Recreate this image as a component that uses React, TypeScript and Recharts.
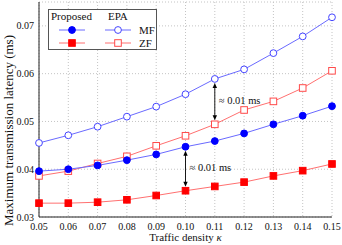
import React from 'react';
import { LineChart, Line, XAxis, YAxis, CartesianGrid, ReferenceLine, Legend } from 'recharts';

// traffic density on the x axis
const DENSITY = [0.05, 0.06, 0.07, 0.08, 0.09, 0.1, 0.11, 0.12, 0.13, 0.14, 0.15];

// max transmission latency (ms)
const PROPOSED_MF = [0.0396, 0.04, 0.0408, 0.0419, 0.0431, 0.0447, 0.0459, 0.0475, 0.0494, 0.0512, 0.0532];
const PROPOSED_ZF = [0.0329, 0.0329, 0.0331, 0.0336, 0.0345, 0.0355, 0.0364, 0.0373, 0.0386, 0.0397, 0.0411];
const EPA_MF = [0.0455, 0.0471, 0.0489, 0.051, 0.0531, 0.0557, 0.0589, 0.0609, 0.0643, 0.0678, 0.0718];
const EPA_ZF = [0.0386, 0.0396, 0.0412, 0.0427, 0.0449, 0.047, 0.0494, 0.0524, 0.0542, 0.057, 0.0606];

const X_TICKS = [0.05, 0.06, 0.07, 0.08, 0.09, 0.1, 0.11, 0.12, 0.13, 0.14, 0.15];
const X_MINOR = [0.055, 0.065, 0.075, 0.085, 0.095, 0.105, 0.115, 0.125, 0.135, 0.145];
const Y_TICKS = [0.03, 0.04, 0.05, 0.06, 0.07];
const Y_MINOR = [0.035, 0.045, 0.055, 0.065, 0.075];

const METHODS = ['Proposed', 'EPA'];
const SCHEMES = ['MF', 'ZF'];
const GAP_LABEL = '≈ 0.01 ms';

const FONT = '"Liberation Serif", "Times New Roman", serif';

const data = DENSITY.map((x, i) => ({
  x,
  proposedMF: PROPOSED_MF[i],
  proposedZF: PROPOSED_ZF[i],
  epaMF: EPA_MF[i],
  epaZF: EPA_ZF[i],
}));

const SERIES = [
  { key: 'epaMF', method: 'EPA', scheme: 'MF', color: '#4545ff', line: '#6a6aff', kind: 'circle', filled: false },
  { key: 'epaZF', method: 'EPA', scheme: 'ZF', color: '#ff4a4a', line: '#ff7070', kind: 'square', filled: false },
  { key: 'proposedMF', method: 'Proposed', scheme: 'MF', color: '#0000ff', line: '#6a6aff', kind: 'circle', filled: true },
  { key: 'proposedZF', method: 'Proposed', scheme: 'ZF', color: '#ff0000', line: '#ff7070', kind: 'square', filled: true },
];

// the two "≈ 0.01 ms" gaps marked on the figure
const GAPS = [
  { x: 0.11, upper: 'epaMF', lower: 'epaZF' },
  { x: 0.1, upper: 'proposedMF', lower: 'proposedZF' },
];

const valueAt = (key: string, x: number) => {
  const row: any = data.find(d => Math.abs(d.x - x) < 1e-9);
  return row ? row[key] : 0;
};

function Marker({ cx, cy, kind, filled, color }: any) {
  const fill = filled ? color : '#fff';
  if (kind === 'square') {
    return <rect x={cx - 3.3} y={cy - 3.3} width={6.6} height={6.6} fill={fill} stroke={color} strokeWidth={1} />;
  }
  return <circle cx={cx} cy={cy} r={3.4} fill={fill} stroke={color} strokeWidth={1} />;
}

const dotFor = (s: any) => (props: any) => {
  const { cx, cy, index } = props;
  if (cx == null || cy == null) return <g key={index} />;
  return <Marker key={index} cx={cx} cy={cy} kind={s.kind} filled={s.filled} color={s.color} />;
};

function GapArrow(props: any) {
  const { x1, y1, y2 } = props;
  const top = Math.min(y1, y2) + 4;
  const bottom = Math.max(y1, y2) - 4;
  const h = 5;
  const w = 2.2;
  return (
    <g>
      <line x1={x1} y1={top + h - 1} x2={x1} y2={bottom - h + 1} stroke="#000" strokeWidth={0.9} />
      <polygon points={`${x1},${top} ${x1 - w},${top + h} ${x1 + w},${top + h}`} fill="#000" />
      <polygon points={`${x1},${bottom} ${x1 - w},${bottom - h} ${x1 + w},${bottom - h}`} fill="#000" />
      <text x={x1 + 4} y={(top + bottom) / 2 - 1} dominantBaseline="central" fontSize={10.5} fontFamily={FONT} fill="#111">
        {GAP_LABEL}
      </text>
    </g>
  );
}

function XTitle({ viewBox }: any) {
  const { x, y, width } = viewBox;
  return (
    <text x={x + width / 2} y={y + 24} textAnchor="middle" fontSize={11} fontFamily={FONT} fill="#111">
      Traffic density <tspan fontStyle="italic">κ</tspan>
    </text>
  );
}

function YTitle({ viewBox }: any) {
  const { x, y, height } = viewBox;
  return (
    <text
      transform={`translate(${x + 8},${y + height / 2 + 21}) rotate(-90)`}
      textAnchor="middle"
      dominantBaseline="central"
      fontSize={13}
      fontFamily={FONT}
      fill="#111"
    >
      Maximum transmission latency (ms)
    </text>
  );
}

function LegendBox({ payload }: any) {
  const keys = new Set((payload || []).map((p: any) => p.dataKey));
  const colX = [24, 70];
  const headX = [3, 60];
  const rowY = [21, 34];
  return (
    <svg width={109} height={41} style={{ display: 'block' }}>
      <rect x={0.5} y={0.5} width={108} height={40} fill="#fff" stroke="#555" strokeWidth={1} />
      {METHODS.map((m, mi) => (
        <text key={m} x={headX[mi]} y={11} fontSize={11} fontFamily={FONT} fill="#111">{m}</text>
      ))}
      {SCHEMES.map((sc, si) => (
        <text key={sc} x={91} y={rowY[si] + 4} fontSize={11} fontFamily={FONT} fill="#111">{sc}</text>
      ))}
      {SERIES.filter(s => keys.has(s.key)).map(s => {
        const cx = colX[METHODS.indexOf(s.method)];
        const cy = rowY[SCHEMES.indexOf(s.scheme)];
        return (
          <g key={s.key}>
            <line x1={cx - 13} y1={cy} x2={cx + 13} y2={cy} stroke={s.line} strokeWidth={1} />
            <Marker cx={cx} cy={cy} kind={s.kind} filled={s.filled} color={s.color} />
          </g>
        );
      })}
    </svg>
  );
}

const tickStyle = { fill: '#111', fontSize: 10, fontFamily: FONT };
const frame = { stroke: '#222', strokeWidth: 1 };

export default function App() {
  return (
    <div style={{ position: 'fixed', left: 0, top: 0, width: 342, height: 245, background: '#fff', fontFamily: FONT }}>
      <LineChart width={342} height={245} data={data} margin={{ top: 2, right: 10, bottom: 0, left: 0 }}>
        <CartesianGrid strokeDasharray="1 2" stroke="#c4c4c4" />

        <XAxis
          dataKey="x"
          type="number"
          domain={[0.05, 0.15]}
          ticks={X_TICKS}
          interval={0}
          tickFormatter={(v: number) => v.toFixed(2)}
          tick={tickStyle}
          tickLine={false}
          tickSize={4}
          tickMargin={2}
          axisLine={frame}
          height={28}
          label={{ content: (p: any) => <XTitle {...p} /> }}
        />
        <XAxis xAxisId="bMaj" type="number" domain={[0.05, 0.15]} ticks={X_TICKS} interval={0} mirror height={0} tick={false} tickSize={5} tickLine={frame} axisLine={false} />
        <XAxis xAxisId="bMin" type="number" domain={[0.05, 0.15]} ticks={X_MINOR} interval={0} mirror height={0} tick={false} tickSize={3} tickLine={frame} axisLine={false} />
        <XAxis xAxisId="tMaj" orientation="top" type="number" domain={[0.05, 0.15]} ticks={X_TICKS} interval={0} mirror height={0} tick={false} tickSize={5} tickLine={frame} axisLine={frame} />
        <XAxis xAxisId="tMin" orientation="top" type="number" domain={[0.05, 0.15]} ticks={X_MINOR} interval={0} mirror height={0} tick={false} tickSize={3} tickLine={frame} axisLine={false} />

        <YAxis
          type="number"
          domain={[0.03, 0.075]}
          ticks={Y_TICKS}
          interval={0}
          tickFormatter={(v: number) => v.toFixed(2)}
          tick={tickStyle}
          tickLine={false}
          tickSize={3}
          tickMargin={2}
          axisLine={frame}
          width={39}
          label={{ content: (p: any) => <YTitle {...p} /> }}
        />
        <YAxis yAxisId="lMaj" type="number" domain={[0.03, 0.075]} ticks={Y_TICKS} interval={0} mirror width={0} tick={false} tickSize={5} tickLine={frame} axisLine={false} />
        <YAxis yAxisId="lMin" type="number" domain={[0.03, 0.075]} ticks={Y_MINOR} interval={0} mirror width={0} tick={false} tickSize={3} tickLine={frame} axisLine={false} />
        <YAxis yAxisId="rMaj" orientation="right" type="number" domain={[0.03, 0.075]} ticks={Y_TICKS} interval={0} mirror width={0} tick={false} tickSize={5} tickLine={frame} axisLine={frame} />
        <YAxis yAxisId="rMin" orientation="right" type="number" domain={[0.03, 0.075]} ticks={Y_MINOR} interval={0} mirror width={0} tick={false} tickSize={3} tickLine={frame} axisLine={false} />

        {SERIES.map(s => (
          <Line
            key={s.key}
            dataKey={s.key}
            name={`${s.method} ${s.scheme}`}
            type="linear"
            stroke={s.line}
            strokeWidth={1}
            dot={dotFor(s)}
            activeDot={false}
            isAnimationActive={false}
          />
        ))}

        {GAPS.map(g => (
          <ReferenceLine
            key={g.upper}
            segment={[
              { x: g.x, y: valueAt(g.upper, g.x) },
              { x: g.x, y: valueAt(g.lower, g.x) },
            ]}
            shape={(p: any) => <GapArrow {...p} />}
          />
        ))}

        <Legend
          verticalAlign="middle"
          align="center"
          layout="horizontal"
          wrapperStyle={{ left: 48, top: 9, width: 109, height: 41 }}
          content={(p: any) => <LegendBox {...p} />}
        />
      </LineChart>
    </div>
  );
}
